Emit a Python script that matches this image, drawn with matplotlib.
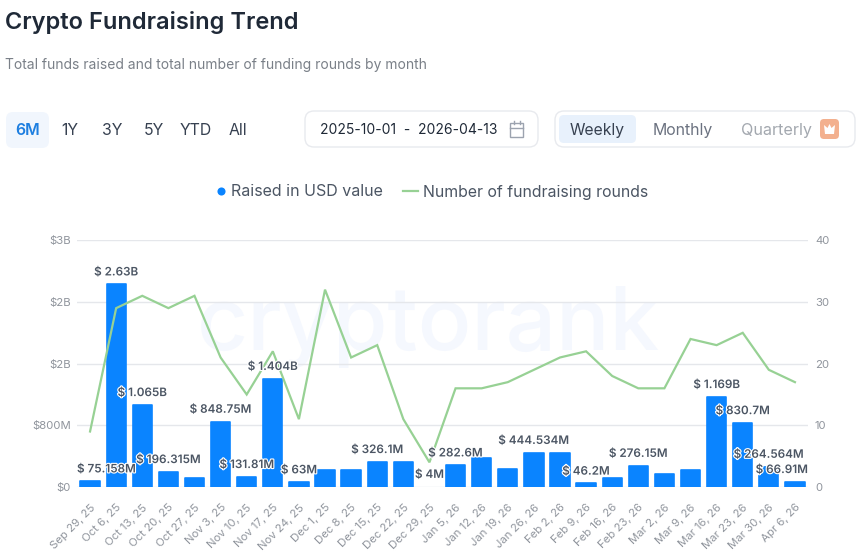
#!/usr/bin/env python3
"""Crypto fundraising trend: weekly funds raised (bars) and number of rounds (line)."""

import matplotlib
matplotlib.use("Agg")
import matplotlib.pyplot as plt
import matplotlib.patheffects as pe
from matplotlib.patches import FancyBboxPatch, Polygon, Rectangle

plt.rcParams["font.family"] = ["Inter", "DejaVu Sans"]

WEEKS = ["Sep 29, 25", "Oct 6, 25", "Oct 13, 25", "Oct 20, 25", "Oct 27, 25", "Nov 3, 25", "Nov 10, 25",
         "Nov 17, 25", "Nov 24, 25", "Dec 1, 25", "Dec 8, 25", "Dec 15, 25", "Dec 22, 25", "Dec 29, 25",
         "Jan 5, 26", "Jan 12, 26", "Jan 19, 26", "Jan 26, 26", "Feb 2, 26", "Feb 9, 26", "Feb 16, 26",
         "Feb 23, 26", "Mar 2, 26", "Mar 9, 26", "Mar 16, 26", "Mar 23, 26", "Mar 30, 26", "Apr 6, 26"]
# millions of USD
RAISED = [75.158, 2630, 1065, 196.315, 112, 848.75, 131.81, 1404, 63, 216, 216, 326.1, 320, 4,
          282.6, 380, 229, 444.534, 445, 46.2, 112, 276.15, 173, 216, 1169, 830.7, 264.564, 66.91]
ROUNDS = [9, 29, 31, 29, 31, 21, 15, 22, 11, 32, 21, 23, 11, 4,
          16, 16, 17, 19, 21, 22, 18, 16, 16, 24, 23, 25, 19, 17]
# only some bars carry a label, the rest are skipped by the site
BAR_LABELS = ["$ 75.158M", "$ 2.63B", "$ 1.065B", "$ 196.315M", None, "$ 848.75M", "$ 131.81M",
              "$ 1.404B", "$ 63M", None, None, "$ 326.1M", None, "$ 4M",
              "$ 282.6M", None, None, "$ 444.534M", None, "$ 46.2M", None,
              "$ 276.15M", None, None, "$ 1.169B", "$ 830.7M", "$ 264.564M", "$ 66.91M"]
LEFT_TICKS = [0, 800, 1600, 2400, 3200]
LEFT_LABELS = ["$0", "$800M", "$2B", "$2B", "$3B"]
RIGHT_TICKS = [0, 10, 20, 30, 40]
RANGES = ["6M", "1Y", "3Y", "5Y", "YTD", "All"]
RANGE_X = [28, 70, 112, 154, 196, 238]

C_BAR = "#0A84FF"
C_LINE = "#97D194"
C_GRID = "#E5E7EB"
C_TICK = "#90959D"
C_LABEL = "#4B5563"

W, H = 860, 560
fig = plt.figure(figsize=(W / 100, H / 100), dpi=100, facecolor="white")

# ---- page furniture, drawn in pixel coordinates ----
ui = fig.add_axes([0, 0, 1, 1], zorder=0)
ui.set_xlim(0, W)
ui.set_ylim(H, 0)
ui.axis("off")


def pill(x, y, w, h, face, edge="none", rad=7):
    ui.add_patch(FancyBboxPatch((x + rad, y + rad), w - 2 * rad, h - 2 * rad,
                                boxstyle=f"round,pad={rad}", fc=face, ec=edge, lw=1))


ui.text(5, 22, "Crypto Fundraising Trend", fontsize=17, fontweight="semibold", color="#1F2937", va="center")
ui.text(5, 65, "Total funds raised and total number of funding rounds by month",
        fontsize=10, color="#7A8088", va="center")

pill(6, 112, 43, 36, "#F1F6FD")
for name, x in zip(RANGES, RANGE_X):
    ui.text(x, 130.5, name, fontsize=11.4, ha="center", va="center",
            color="#1E7FE0" if name == "6M" else "#374151",
            fontweight="semibold" if name == "6M" else "normal")

pill(305, 111, 233, 36, "white", "#E8EAEE", rad=9)
ui.text(409, 130.5, "2025-10-01  -  2026-04-13", fontsize=10, ha="center", va="center", color="#1F2937")
ui.add_patch(Rectangle((510, 123), 13, 14, fc="none", ec="#9CA3AF", lw=1))
ui.plot([510, 523], [127.5, 127.5], color="#9CA3AF", lw=1)
ui.plot([513.5, 513.5], [121, 124], color="#9CA3AF", lw=1)
ui.plot([519.5, 519.5], [121, 124], color="#9CA3AF", lw=1)

pill(555, 111, 300, 36, "white", "#E8EAEE", rad=9)
pill(559, 115, 77, 28, "#E8F1FC", rad=5)
ui.text(597, 130.5, "Weekly", fontsize=11.3, ha="center", va="center", color="#374151")
ui.text(683, 130.5, "Monthly", fontsize=11.4, ha="center", va="center", color="#6B7280")
ui.text(776, 130.5, "Quarterly", fontsize=11.6, ha="center", va="center", color="#A3A8AF")
pill(820, 119, 19, 20, "#F3B08E", rad=4)
ui.add_patch(Polygon([(825, 134), (824, 125), (827.5, 128), (829.5, 124), (831.5, 128), (835, 125), (834, 134)],
                     closed=True, fc="white", ec="none"))

ui.scatter([221], [191], s=34, color=C_BAR, linewidths=0)
ui.text(231, 192, "Raised in USD value", fontsize=11.5, color="#4B5563", va="center")
ui.plot([403, 418], [191, 191], color=C_LINE, lw=1.6)
ui.text(423, 192, "Number of fundraising rounds", fontsize=11.4, color="#4B5563", va="center")

# faint logo behind the plot
ui.text(428, 327, "cryptorank", fontsize=64, color="#F5F8FE", ha="center", va="center", fontweight="medium")

# ---- the chart ----
left, right, top, bottom = 77, 808, 240.3, 487
ax = fig.add_axes([left / W, (H - bottom) / H, (right - left) / W, (bottom - top) / H], zorder=1)
ax.patch.set_alpha(0)
xs = list(range(len(WEEKS)))
bars = ax.bar(xs, RAISED, width=0.74, color=C_BAR, edgecolor=C_BAR, linewidth=1.2, joinstyle="round", zorder=2)
for b, val in zip(bars, RAISED):
    if val < 10:
        b.set_linewidth(0)  # the rounding stroke would make a tiny bar look bigger than it is
ax.set_xlim(-0.5, len(WEEKS) - 0.5)
ax.set_ylim(0, 3200)
ax.set_yticks(LEFT_TICKS)
ax.set_yticklabels(LEFT_LABELS)
ax.set_xticks(xs)
ax.set_xticklabels(WEEKS, rotation=45, ha="right", rotation_mode="anchor")
ax.grid(True, axis="y", color=C_GRID, lw=1, zorder=0)
ax.set_axisbelow(True)
ax.tick_params(axis="y", length=0, pad=4.5, labelsize=8.2, labelcolor=C_TICK)
ax.tick_params(axis="x", length=0, pad=11, labelsize=8.2, labelcolor=C_TICK)
for s in ax.spines.values():
    s.set_visible(False)

# twin axes sits on top, so the line and the value labels cover the bars
ax2 = ax.twinx()
ax2.patch.set_visible(False)
ax2.plot(xs, ROUNDS, color=C_LINE, lw=1.6, solid_joinstyle="miter", zorder=3)
ax2.set_ylim(0, 40)
ax2.set_yticks(RIGHT_TICKS)
ax2.tick_params(axis="y", length=0, pad=5, labelsize=8.2, labelcolor=C_TICK)
for s in ax2.spines.values():
    s.set_visible(False)

# value labels sit above the bars, the outer two get pushed inside the plot
halo = [pe.withStroke(linewidth=1.6, foreground="white")]
for i, (val, lab) in enumerate(zip(RAISED, BAR_LABELS)):
    if lab is None:
        continue
    if i == 0:
        x, ha = -0.5, "left"
    elif i == len(WEEKS) - 1:
        x, ha = len(WEEKS) - 0.5, "right"
    else:
        x, ha = i, "center"
    ax2.annotate(lab, xy=(x, val), xycoords=ax.transData, xytext=(0, 8.5), textcoords="offset points",
                 ha=ha, va="center", fontsize=8.4, fontweight="semibold", color=C_LABEL,
                 path_effects=halo, zorder=5, annotation_clip=False)

fig.savefig("out.png", dpi=100, facecolor="white")
